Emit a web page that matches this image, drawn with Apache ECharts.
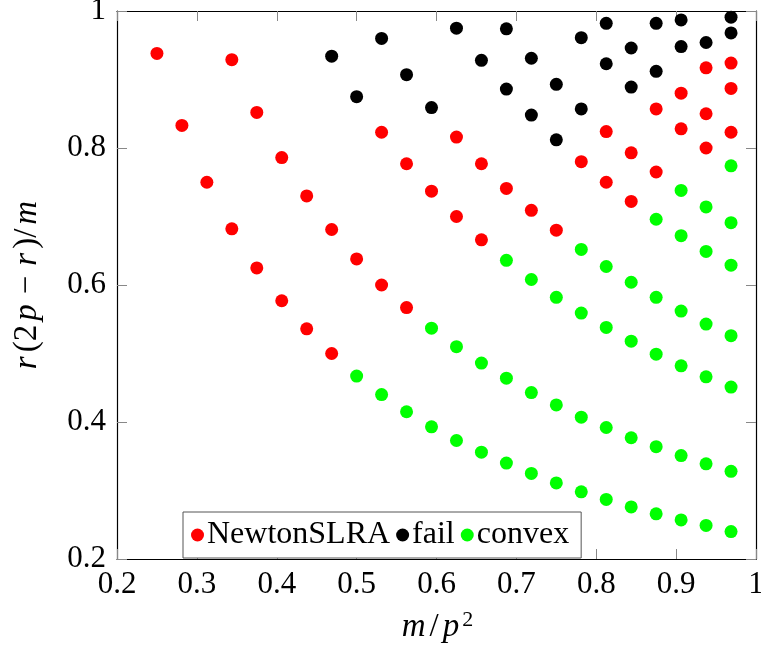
<!DOCTYPE html>
<html>
<head>
<meta charset="utf-8">
<script src="https://cdn.jsdelivr.net/npm/echarts@6/dist/echarts.min.js"></script>
<style>html,body{margin:0;padding:0;background:#fff;}#c{width:761px;height:647px;}</style>
</head>
<body>
<div id="c"></div>
<script>
const seriesNames = ['NewtonSLRA', 'fail', 'convex'];
const xTicks = [0.2, 0.3, 0.4, 0.5, 0.6, 0.7, 0.8, 0.9, 1];
const yTicks = [0.2, 0.4, 0.6, 0.8, 1];

const newtonSLRA = [
  [0.25, 0.938], [0.28125, 0.833], [0.3125, 0.750],
  [0.34375, 0.929], [0.34375, 0.682],
  [0.375, 0.852], [0.375, 0.625],
  [0.40625, 0.786], [0.40625, 0.577],
  [0.4375, 0.730], [0.4375, 0.536],
  [0.46875, 0.681], [0.46875, 0.500],
  [0.5, 0.638],
  [0.53125, 0.823], [0.53125, 0.600],
  [0.5625, 0.777], [0.5625, 0.567],
  [0.59375, 0.737],
  [0.625, 0.816], [0.625, 0.700],
  [0.65625, 0.777], [0.65625, 0.666],
  [0.6875, 0.741], [0.71875, 0.709], [0.75, 0.680], [0.78125, 0.780],
  [0.8125, 0.824], [0.8125, 0.750],
  [0.84375, 0.793], [0.84375, 0.722],
  [0.875, 0.857], [0.875, 0.765],
  [0.90625, 0.880], [0.90625, 0.828],
  [0.9375, 0.917], [0.9375, 0.850], [0.9375, 0.800],
  [0.96875, 0.924], [0.96875, 0.887], [0.96875, 0.823]
];

const fail = [
  [0.46875, 0.934], [0.5, 0.875], [0.53125, 0.960], [0.5625, 0.907],
  [0.59375, 0.859], [0.625, 0.975], [0.65625, 0.928],
  [0.6875, 0.974], [0.6875, 0.886],
  [0.71875, 0.931], [0.71875, 0.848],
  [0.75, 0.893], [0.75, 0.812],
  [0.78125, 0.961], [0.78125, 0.857],
  [0.8125, 0.982], [0.8125, 0.923],
  [0.84375, 0.946], [0.84375, 0.889],
  [0.875, 0.982], [0.875, 0.912],
  [0.90625, 0.987], [0.90625, 0.948],
  [0.9375, 0.954],
  [0.96875, 0.991], [0.96875, 0.968]
];

const convex = [
  [0.5, 0.467], [0.53125, 0.440], [0.5625, 0.415],
  [0.59375, 0.537], [0.59375, 0.393],
  [0.625, 0.510], [0.625, 0.373],
  [0.65625, 0.486], [0.65625, 0.356],
  [0.6875, 0.636], [0.6875, 0.464], [0.6875, 0.340],
  [0.71875, 0.608], [0.71875, 0.443], [0.71875, 0.325],
  [0.75, 0.582], [0.75, 0.425], [0.75, 0.311],
  [0.78125, 0.652], [0.78125, 0.559], [0.78125, 0.407], [0.78125, 0.298],
  [0.8125, 0.627], [0.8125, 0.538], [0.8125, 0.392], [0.8125, 0.287],
  [0.84375, 0.604], [0.84375, 0.518], [0.84375, 0.377], [0.84375, 0.276],
  [0.875, 0.696], [0.875, 0.582], [0.875, 0.499], [0.875, 0.364], [0.875, 0.266],
  [0.90625, 0.738], [0.90625, 0.672], [0.90625, 0.562], [0.90625, 0.482], [0.90625, 0.351], [0.90625, 0.257],
  [0.9375, 0.714], [0.9375, 0.649], [0.9375, 0.543], [0.9375, 0.466], [0.9375, 0.339], [0.9375, 0.249],
  [0.96875, 0.774], [0.96875, 0.691], [0.96875, 0.629], [0.96875, 0.526], [0.96875, 0.451], [0.96875, 0.328], [0.96875, 0.240]
];

const colors = ['#ff0000', '#000000', '#00ff00'];
const FONT = "'Liberation Serif', 'DejaVu Serif', serif";
const FS = 31;
const TS = 33;

const tickStyle = { inside: true, length: 10, lineStyle: { color: '#888', width: 1 } };
const lineStyle = { show: true, onZero: false, lineStyle: { color: '#000', width: 1.2 } };
const richTitle = {
  i: { fontFamily: FONT, fontStyle: 'italic', fontSize: TS, color: '#000', padding: [0, 2, 0, 2] },
  n: { fontFamily: FONT, fontSize: TS, color: '#000', padding: [0, 2, 0, 2] },
  o: { fontFamily: FONT, fontSize: TS, color: '#000', padding: [0, 8, 0, 8] },
  s: { fontFamily: FONT, fontSize: 22, color: '#000', padding: [0, 0, 15, 1] }
};

const chart = echarts.init(document.getElementById('c'), null, { renderer: 'canvas' });
chart.setOption({
  animation: false,
  backgroundColor: '#fff',
  textStyle: { fontFamily: FONT },
  grid: { left: 117, right: 5, top: 11, bottom: 88, containLabel: false, outerBoundsMode: 'none' },
  legend: {
    data: seriesNames,
    left: 183, top: 512,
    orient: 'horizontal',
    icon: 'circle',
    itemWidth: 13, itemHeight: 13,
    itemGap: 6,
    padding: [7, 12, 7, 8],
    borderColor: '#555', borderWidth: 1,
    backgroundColor: '#fff',
    textStyle: { fontFamily: FONT, fontSize: 32, color: '#000', padding: [0, 0, 0, -2] }
  },
  xAxis: [{
    type: 'value', min: xTicks[0], max: xTicks[xTicks.length - 1], interval: 0.1, position: 'bottom',
    axisLine: lineStyle, axisTick: tickStyle, splitLine: { show: false },
    axisLabel: { fontFamily: FONT, fontSize: FS, color: '#000', margin: 10 },
    name: '{i|m}{n|/}{i|p}{s|2}', nameLocation: 'middle', nameGap: 50,
    nameTextStyle: { rich: richTitle }
  }, {
    type: 'value', min: xTicks[0], max: xTicks[xTicks.length - 1], interval: 0.1, position: 'top',
    axisLine: lineStyle, axisTick: tickStyle, splitLine: { show: false },
    axisLabel: { show: false }
  }],
  yAxis: [{
    type: 'value', min: yTicks[0], max: yTicks[yTicks.length - 1], interval: 0.2, position: 'left',
    axisLine: lineStyle, axisTick: tickStyle, splitLine: { show: false },
    axisLabel: { fontFamily: FONT, fontSize: FS, color: '#000', margin: 11 },
    name: '{i|r}{n|(2}{i|p}{o|−}{i|r}{n|)/}{i|m}', nameLocation: 'middle', nameGap: 73,
    nameTextStyle: { rich: richTitle }
  }, {
    type: 'value', min: yTicks[0], max: yTicks[yTicks.length - 1], interval: 0.2, position: 'right',
    axisLine: lineStyle, axisTick: tickStyle, splitLine: { show: false },
    axisLabel: { show: false }
  }],
  series: [
    { name: seriesNames[0], type: 'scatter', data: newtonSLRA, symbolSize: 13, itemStyle: { color: colors[0], opacity: 1 } },
    { name: seriesNames[1], type: 'scatter', data: fail, symbolSize: 13, itemStyle: { color: colors[1], opacity: 1 } },
    { name: seriesNames[2], type: 'scatter', data: convex, symbolSize: 13, itemStyle: { color: colors[2], opacity: 1 } }
  ]
});
</script>
</body>
</html>
